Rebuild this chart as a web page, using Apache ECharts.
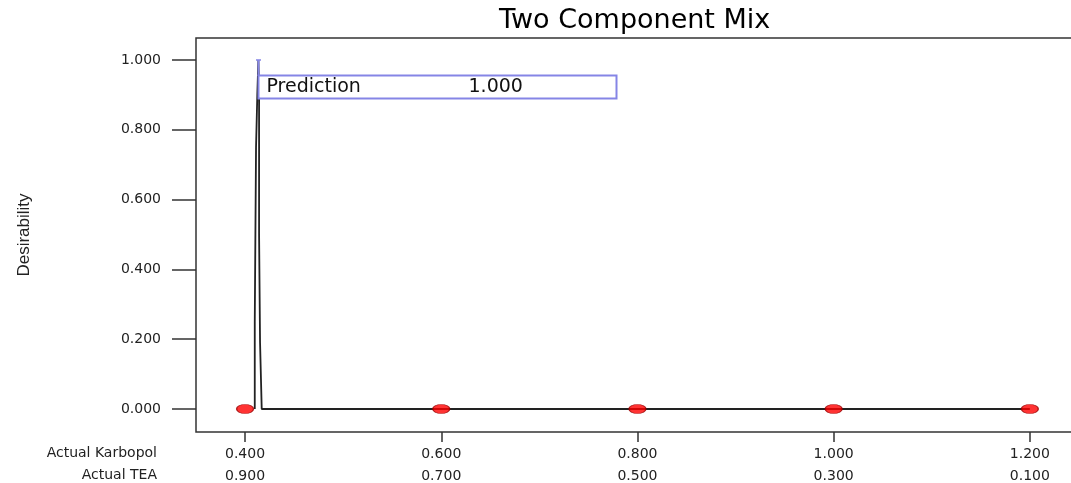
<!DOCTYPE html>
<html>
<head>
<meta charset="utf-8">
<script src="https://cdn.jsdelivr.net/npm/echarts@6/dist/echarts.min.js"></script>
<style>html,body{margin:0;padding:0;background:#fff;}#chart{width:1071px;height:483px;}</style>
</head>
<body>
<div id="chart"></div>
<script>
// ---- data ----
const titleText = 'Two Component Mix';
const yName = 'Desirability';
const xRowNames = ['Actual Karbopol', 'Actual TEA'];
const karbopolTicks = [0.4, 0.6, 0.8, 1.0, 1.2];
const karbopolLabels = ['0.400', '0.600', '0.800', '1.000', '1.200'];
const teaLabels = ['0.900', '0.700', '0.500', '0.300', '0.100'];
const yTicks = [0, 0.2, 0.4, 0.6, 0.8, 1.0];
const yLabels = ['0.000', '0.200', '0.400', '0.600', '0.800', '1.000'];
const curveX = [0.4099, 0.4099, 0.4112, 0.4112, 0.4125, 0.4125, 0.4136, 0.4143, 0.4143, 0.4153, 0.4153, 0.4170, 0.4170, 1.2];
const curveY = [0, 0.25, 0.25, 0.75, 0.75, 0.90, 1.0, 0.90, 0.50, 0.50, 0.19, 0.19, 0, 0];
const designX = [0.4, 0.6, 0.8, 1.0, 1.2];
const designY = [0, 0, 0, 0, 0];
const predX = 0.4136;
const predY = 1.0;
const predName = 'Prediction';
const predValue = '1.000';

// ---- chart ----
const chart = echarts.init(document.getElementById('chart'), null, {renderer: 'canvas'});
const FONT = 'DejaVu Sans';
const PURPLE = '#8585e6';
const GRID = {left: 196, top: 38, width: 878, height: 394};

function tickLabel(v, list) {
  for (let i = 0; i < karbopolTicks.length; i++) {
    if (Math.abs(karbopolTicks[i] - v) < 1e-6) return list[i];
  }
  return '';
}
function yLabel(v) {
  for (let i = 0; i < yTicks.length; i++) {
    if (Math.abs(yTicks[i] - v) < 1e-6) return yLabels[i];
  }
  return '';
}

const option = {
  animation: false,
  backgroundColor: '#ffffff',
  title: {
    text: titleText,
    left: 499, top: 7, padding: 0,
    textStyle: {fontFamily: FONT, fontSize: 27, fontWeight: 'normal', color: '#000'}
  },
  grid: {
    left: GRID.left, top: GRID.top, width: GRID.width, height: GRID.height,
    outerBoundsMode: 'none', containLabel: false,
    show: true, borderColor: '#333', borderWidth: 1.5, backgroundColor: '#fff'
  },
  xAxis: {
    type: 'value', min: 0.35, max: 1.245,
    splitLine: {show: false},
    axisLine: {show: false, onZero: false},
    axisTick: {show: true, length: 10, inside: false, customValues: karbopolTicks,
      lineStyle: {color: '#333', width: 1.5}},
    axisLabel: {
      customValues: karbopolTicks,
      margin: 11,
      fontFamily: FONT, fontSize: 14, color: '#222', lineHeight: 22.5,
      formatter: function (v) { return tickLabel(v, karbopolLabels) + '\n' + tickLabel(v, teaLabels); }
    }
  },
  yAxis: {
    type: 'value', min: -0.0659, max: 1.063,
    name: yName, nameLocation: 'middle', nameRotate: 90, nameGap: 163,
    nameTextStyle: {fontFamily: 'Liberation Sans', fontSize: 17, color: '#222'},
    splitLine: {show: false},
    axisLine: {show: false, onZero: false},
    axisTick: {show: true, length: 24, inside: false, customValues: yTicks,
      lineStyle: {color: '#333', width: 1.5}},
    axisLabel: {
      customValues: yTicks, margin: 35,
      fontFamily: FONT, fontSize: 14, color: '#222',
      formatter: yLabel
    }
  },
  graphic: [
    {type: 'text', right: 1071 - 157, top: 446, silent: true,
     style: {text: xRowNames[0], fontFamily: FONT, fontSize: 14, fill: '#222', textAlign: 'right'}},
    {type: 'text', right: 1071 - 157, top: 468.5, silent: true,
     style: {text: xRowNames[1], fontFamily: FONT, fontSize: 14, fill: '#222', textAlign: 'right'}}
  ],
  series: [
    {
      type: 'line',
      data: curveX.map((x, i) => [x, curveY[i]]),
      showSymbol: false, symbol: 'none',
      lineStyle: {color: '#222', width: 1.8},
      z: 2
    },
    {
      type: 'scatter',
      data: designX.map((x, i) => [x, designY[i]]),
      symbol: 'circle', symbolSize: [17, 9],
      itemStyle: {color: '#ff0000', borderColor: '#990000', borderWidth: 1},
      z: 3
    },
    {
      type: 'custom',
      data: [[predX, predY]],
      z: 5,
      renderItem: function (params, api) {
        const p = api.coord([api.value(0), api.value(1)]);
        const x = Math.round(p[0]) + 0.5, y = p[1];
        return {
          type: 'group',
          children: [
            {type: 'line', shape: {x1: x, y1: y, x2: x, y2: y + 16}, style: {stroke: PURPLE, lineWidth: 2}},
            {type: 'line', shape: {x1: x - 2.5, y1: y, x2: x + 2.5, y2: y}, style: {stroke: PURPLE, lineWidth: 1.5}},
            {type: 'rect', shape: {x: x, y: y + 15.5, width: 358, height: 23},
             style: {fill: '#fff', stroke: PURPLE, lineWidth: 2}},
            {type: 'text', x: x + 8, y: y + 27,
             style: {text: predName, fontFamily: FONT, fontSize: 19, fill: '#111', verticalAlign: 'middle'}},
            {type: 'text', x: x + 210, y: y + 27,
             style: {text: predValue, fontFamily: FONT, fontSize: 19, fill: '#111', verticalAlign: 'middle'}}
          ]
        };
      }
    }
  ]
};
chart.setOption(option);
</script>
</body>
</html>
